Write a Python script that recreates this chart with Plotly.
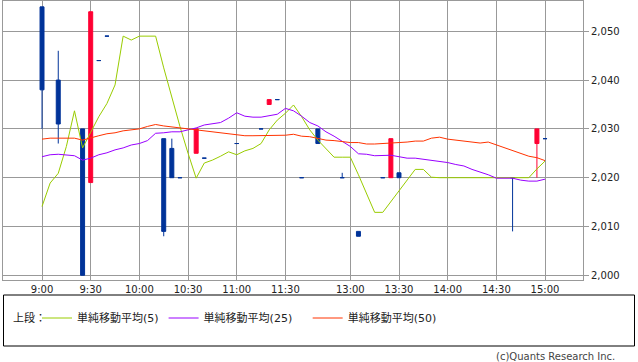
import plotly.graph_objects as go

# ---- data ----
bar_idx = [0, 2, 5, 6, 7, 8, 15, 16, 17, 19, 20, 24, 27, 28, 29, 32, 34, 37, 39, 42, 43, 44, 58, 61, 62]
bar_open = [2055, 2040, 2030, 2019, 2044, 2049, 2028, 2026, 2020, 2025, 2024, 2027, 2030, 2035, 2036, 2020, 2030, 2020, 2009, 2020, 2020, 2021, 2020, 2027, 2028]
bar_high = [2055, 2046, 2030, 2054, 2044, 2049, 2028, 2028, 2020, 2030, 2024, 2027, 2030, 2036, 2036, 2020, 2030, 2021, 2009, 2020, 2028, 2021, 2020, 2030, 2028]
bar_low = [2030, 2027, 2000, 2019, 2044, 2049, 2008, 2020, 2020, 2025, 2024, 2027, 2030, 2035, 2036, 2020, 2027, 2020, 2008, 2020, 2020, 2020, 2009, 2020, 2028]
bar_close = [2038, 2031, 2000, 2054, 2044, 2049, 2009, 2020, 2020, 2030, 2024, 2027, 2030, 2036, 2036, 2020, 2027, 2020, 2008, 2020, 2028, 2020, 2020, 2030, 2028]

ma_idx = list(range(63))
ma5 = [2014.1, 2018.9, 2020.9, 2026.4, 2033.7, 2026.1, 2029.3, 2032.5, 2035.2, 2039.0,
       2049.0, 2048.2, 2049.0, 2049.0, 2049.0, 2042.5, 2036.3, 2030.5, 2025.0, 2019.9,
       2023.0, 2023.6, 2024.4, 2025.3, 2024.7, 2025.5, 2026.0, 2027.0, 2029.8, 2031.8,
       2033.2, 2034.9, 2032.5, 2029.8, 2027.7, 2026.0, 2024.2, 2024.2, 2024.2, 2020.6,
       2016.8, 2012.9, 2012.9, 2015.1, 2017.5, 2019.7, 2021.7, 2021.7, 2020.1, 2020.0,
       2020.0, 2020.0, 2020.0, 2020.0, 2020.0, 2020.0, 2020.0, 2020.0, 2020.0, 2020.0,
       2020.0, 2021.8, 2023.4]
ma25 = [2024.3, 2024.7, 2024.8, 2024.7, 2024.5, 2023.6, 2024.0, 2024.7, 2025.1, 2025.7,
        2026.1, 2026.7, 2027.0, 2027.6, 2029.1, 2029.2, 2029.4, 2029.4, 2029.8, 2030.2,
        2030.8, 2031.1, 2031.3, 2032.2, 2033.3, 2032.6, 2032.4, 2032.4, 2032.7, 2033.0,
        2034.2, 2033.7, 2032.6, 2031.3, 2030.6, 2029.4, 2028.5, 2027.5, 2026.4, 2024.9,
        2024.8, 2024.5, 2024.5, 2024.6, 2024.3, 2024.0, 2024.0, 2023.8, 2023.5, 2023.4,
        2023.1, 2022.7, 2022.4, 2021.7, 2021.2, 2020.6, 2019.9, 2019.9, 2019.9, 2019.5,
        2019.3, 2019.3, 2019.7]
ma50 = [2027.9, 2028.1, 2028.1, 2028.1, 2028.1, 2027.7, 2028.2, 2028.6, 2029.0, 2029.2,
        2029.6, 2029.8, 2030.0, 2030.5, 2030.9, 2030.6, 2030.4, 2030.2, 2029.9, 2029.8,
        2029.6, 2029.3, 2029.2, 2028.9, 2028.7, 2028.6, 2028.6, 2028.6, 2028.7, 2028.7,
        2028.7, 2028.9, 2028.5, 2028.4, 2028.1, 2027.7, 2027.6, 2027.4, 2027.2, 2027.2,
        2026.9, 2026.9, 2027.0, 2027.0, 2027.2, 2027.3, 2027.5, 2027.5, 2028.1, 2028.3,
        2027.9, 2027.7, 2027.4, 2027.2, 2027.1, 2027.3, 2026.7, 2026.1, 2025.5, 2025.0,
        2024.4, 2024.1, 2023.5]

tick_pos = [0, 6, 12, 18, 24, 30, 38, 44, 50, 56, 62]
tick_text = ["9:00", "9:30", "10:00", "10:30", "11:00", "11:30", "13:00", "13:30", "14:00", "14:30", "15:00"]
y_ticks = [2000, 2010, 2020, 2030, 2040, 2050]

ma_names = ["単純移動平均(5)", "単純移動平均(25)", "単純移動平均(50)"]
legend_label = "上段："
credit = "(c)Quants Research Inc."

# ---- style ----
UP = "#FF0033"
DOWN = "#003399"
GRID = "#999999"
TXT = "#222222"
FONT = "DejaVu Sans, Noto Sans CJK JP, sans-serif"

up_sel = [i for i in range(len(bar_idx)) if bar_close[i] > bar_open[i]]
dn_sel = [i for i in range(len(bar_idx)) if bar_close[i] <= bar_open[i]]

fig = go.Figure()
for sel, col in ((up_sel, UP), (dn_sel, DOWN)):
    fig.add_trace(go.Candlestick(
        x=[bar_idx[i] for i in sel],
        open=[bar_open[i] for i in sel],
        high=[bar_high[i] for i in sel],
        low=[bar_low[i] for i in sel],
        close=[bar_close[i] for i in sel],
        increasing=dict(line=dict(color=col, width=1), fillcolor=col),
        decreasing=dict(line=dict(color=col, width=1), fillcolor=col),
        whiskerwidth=0,
        showlegend=False,
        hoverinfo="skip",
    ))

for vals, col, nm in ((ma5, "#99CC00", ma_names[0]),
                      (ma25, "#9900FF", ma_names[1] + "\u00a0\u00a0\u00a0"),
                      (ma50, "#FF3300", ma_names[2])):
    fig.add_trace(go.Scatter(x=ma_idx, y=vals, mode="lines", name=nm,
                             line=dict(color=col, width=1), hoverinfo="skip"))

W, H = 638, 362
ml, mr, mt, mb = 3, 55, 1, 82
pw = W - ml - mr
ph = H - mt - mb


def px_x(px):
    return (px - ml) / pw


def px_y(py):
    return (H - mb - py) / ph


fig.update_layout(
    width=W, height=H,
    margin=dict(l=ml, r=mr, t=mt, b=mb, pad=0),
    paper_bgcolor="white", plot_bgcolor="white",
    font=dict(family=FONT, size=10, color=TXT),
    xaxis=dict(range=[-4.81, 66.68], tickmode="array", tickvals=tick_pos, ticktext=tick_text,
               showgrid=True, gridcolor=GRID, gridwidth=1, showline=True, linecolor=GRID,
               mirror=True, ticks="", zeroline=False, rangeslider=dict(visible=False),
               fixedrange=True),
    yaxis=dict(range=[1999.04, 2056.2], side="right", tickmode="array", tickvals=y_ticks,
               tickformat=",d", showgrid=True, gridcolor=GRID, gridwidth=1, showline=True,
               linecolor=GRID, mirror=True, ticks="outside", ticklen=5, tickcolor=GRID,
               zeroline=False, fixedrange=True),
    showlegend=True,
    legend=dict(orientation="h", x=px_x(37), xanchor="left", y=px_y(318), yanchor="middle",
                font=dict(size=11, color=TXT), bgcolor="rgba(0,0,0,0)", borderwidth=0,
                itemclick=False, itemdoubleclick=False),
    shapes=[dict(type="rect", xref="paper", yref="paper",
                 x0=px_x(3.5), x1=px_x(634.5), y0=px_y(346), y1=px_y(295),
                 line=dict(color="black", width=1), fillcolor="rgba(0,0,0,0)")],
    annotations=[
        dict(text=legend_label, xref="paper", yref="paper", x=px_x(11), y=px_y(318),
             xanchor="left", yanchor="middle", showarrow=False,
             font=dict(size=11, color=TXT)),
        dict(text=credit, xref="paper", yref="paper",
             x=px_x(617), y=px_y(356), xanchor="right", yanchor="middle",
             showarrow=False, font=dict(size=10, color="#444444")),
    ],
)

fig.write_html("out.html")
